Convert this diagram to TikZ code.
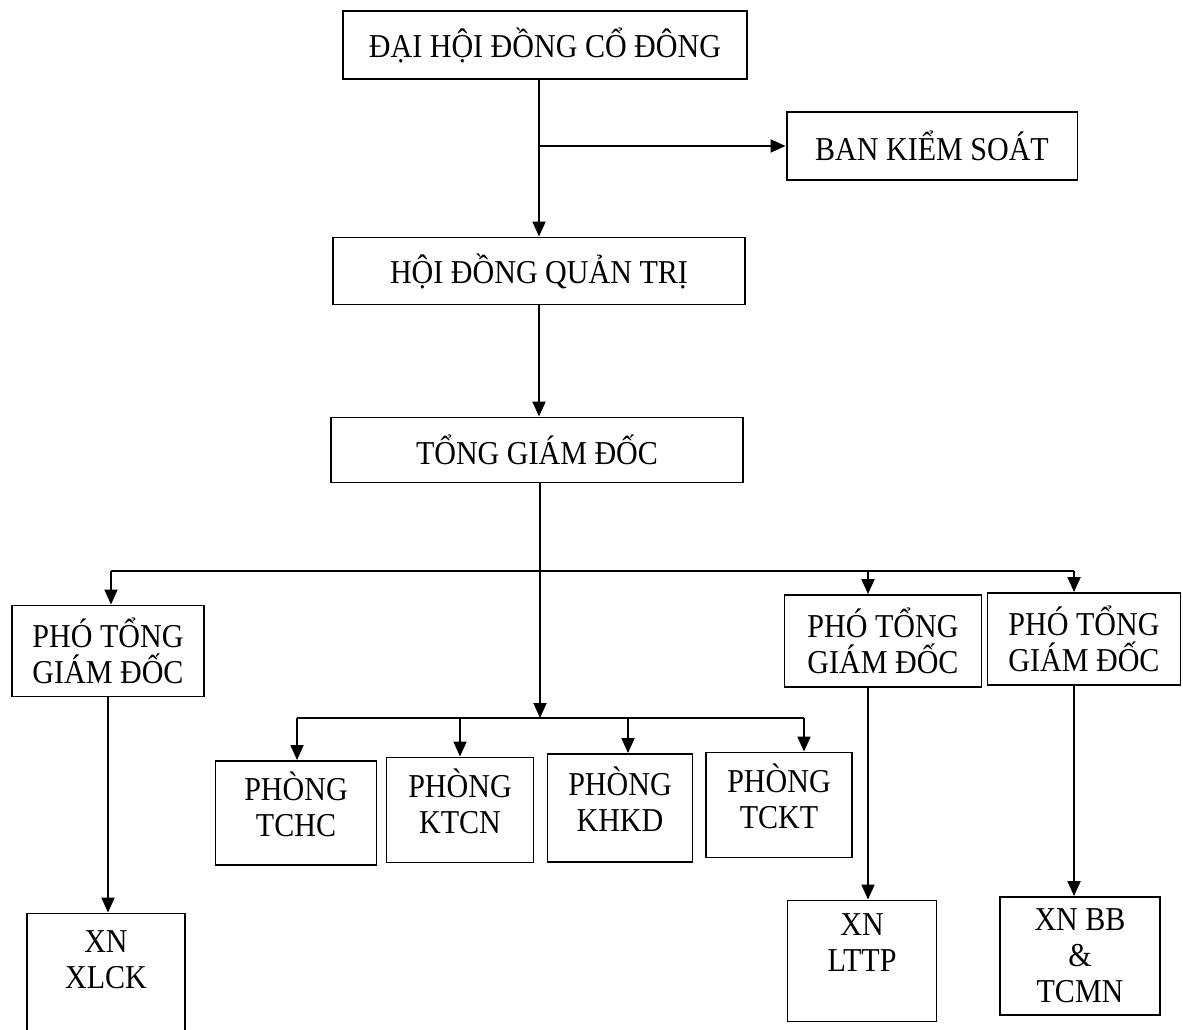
\documentclass[tikz,border=0pt]{standalone}
\usepackage{fontspec}
\setmainfont[FakeStretch=0.9]{Liberation Serif}
\usetikzlibrary{arrows.meta,positioning}

\begin{document}
\begin{tikzpicture}[x=0.02cm, y=-0.02cm, >={Triangle[length=3mm,width=2.6mm]},
  box/.style={draw, line width=1.1pt, align=center, inner sep=0pt,
    font=\fontsize{19}{20.5}\selectfont},
  link/.style={line width=1.1pt}]
  \useasboundingbox (0,0) rectangle (1183,1030);
  \clip (0,0) rectangle (1183,1030);
  % top levels
  \node[box, minimum width=8.08cm, minimum height=1.36cm] (dhdcd) at (545,45) {ĐẠI HỘI ĐỒNG CỔ ĐÔNG};
  \node[box, minimum width=5.82cm, minimum height=1.36cm] (bks) at (932,146) {BAN KIỂM SOÁT};
  \node[box, minimum width=8.24cm, minimum height=1.34cm] (hdqt) at (539,271) {HỘI ĐỒNG QUẢN TRỊ};
  \node[box, minimum width=8.24cm, minimum height=1.3cm] (tgd) at (537,450) {TỔNG GIÁM ĐỐC};
  \draw[link,->] (hdqt.north |- dhdcd.south) -- (hdqt.north);
  \draw[link,->] (hdqt.north |- bks.west) -- (bks.west);
  \draw[link,->] (hdqt.south) -- (hdqt.south |- tgd.north);
  % deputies
  \node[box, minimum width=3.84cm, minimum height=1.82cm] (ptgd1) at (108,651) {PHÓ TỔNG\\GIÁM ĐỐC};
  \node[box, minimum width=3.94cm, minimum height=1.84cm] (ptgd2) at (883,641) {PHÓ TỔNG\\GIÁM ĐỐC};
  \node[box, minimum width=3.86cm, minimum height=1.84cm] (ptgd3) at (1084,639) {PHÓ TỔNG\\GIÁM ĐỐC};
  \coordinate (busl) at (111,571);
  \coordinate (busm) at (868,571);
  \coordinate (busr) at (1074,571);
  \draw[link] (busl) -- (busr);
  \draw[link,->] (busl) -- (busl |- ptgd1.north);
  \draw[link,->] (busm) -- (busm |- ptgd2.north);
  \draw[link,->] (busr) -- (busr |- ptgd3.north);
  % departments
  \node[box, minimum width=3.22cm, minimum height=2.08cm] (tchc) at (296,813) {PHÒNG\\TCHC\\[-10pt]\mbox{}};
  \node[box, minimum width=2.94cm, minimum height=2.1cm] (ktcn) at (460,810) {PHÒNG\\KTCN\\[-10pt]\mbox{}};
  \node[box, minimum width=2.9cm, minimum height=2.16cm] (khkd) at (620,808) {PHÒNG\\KHKD\\[-10pt]\mbox{}};
  \node[box, minimum width=2.92cm, minimum height=2.1cm] (tckt) at (779,805) {PHÒNG\\TCKT\\[-10pt]\mbox{}};
  \coordinate (pbus) at (540,718);
  \coordinate (p1) at (297,718);
  \coordinate (p2) at (460,718);
  \coordinate (p3) at (628,718);
  \coordinate (p4) at (804,718);
  \draw[link,->] (tgd.south -| pbus) -- (pbus);
  \draw[link] (p1) -- (p4);
  \draw[link,->] (p1) -- (p1 |- tchc.north);
  \draw[link,->] (p2) -- (p2 |- ktcn.north);
  \draw[link,->] (p3) -- (p3 |- khkd.north);
  \draw[link,->] (p4) -- (p4 |- tckt.north);
  % enterprises
  \node[box, minimum width=3.16cm, minimum height=2.86cm] (xlck) at (106,985) {XN\\XLCK\\[9pt]\mbox{}};
  \node[box, minimum width=2.98cm, minimum height=2.42cm] (lttp) at (862,961) {XN\\LTTP\\ \mbox{}};
  \node[box, minimum width=3.2cm, minimum height=2.36cm] (bb) at (1080,956) {XN BB\\\&\\TCMN};
  \draw[link,->] (ptgd1.south) -- (ptgd1.south |- xlck.north);
  \draw[link,->] (ptgd2.south -| busm) -- (busm |- lttp.north);
  \draw[link,->] (ptgd3.south -| busr) -- (busr |- bb.north);
\end{tikzpicture}
\end{document}
